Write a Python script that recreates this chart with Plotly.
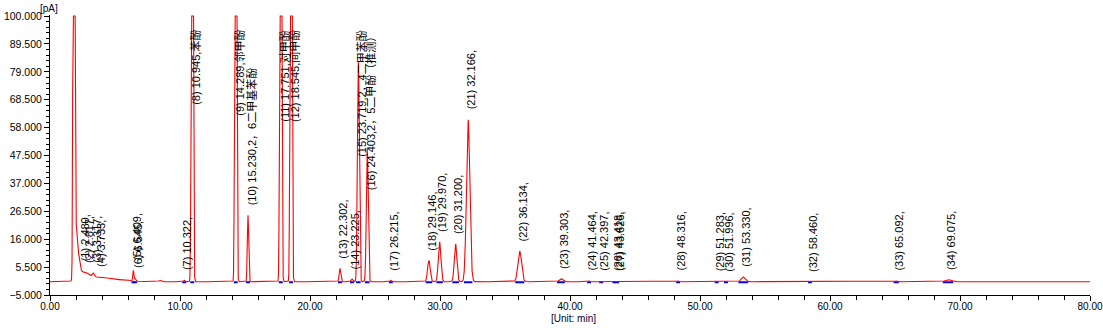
import numpy as np
import plotly.graph_objects as go

# ---------------- data ----------------
peak_no = list(range(1, 35))
peak_rt = [2.480, 2.817, 3.317, 3.733, 6.409, 6.545, 10.322, 10.945, 14.289, 15.230,
           17.751, 18.545, 22.302, 23.225, 23.719, 24.403, 26.215, 29.146, 29.970, 31.200,
           32.166, 36.134, 39.303, 41.464, 42.397, 43.418, 43.626, 48.316, 51.283, 51.996,
           53.330, 58.460, 65.092, 69.075]
# apparent heights in pA (500 = off-scale peak)
peak_height = [2.5, 1.2, 1.5, 1.0, 4.0, 1.0, 0.5, 500, 500, 25,
               500, 500, 5.0, 1.0, 83, 50, 0.5, 8.0, 15.0, 14.2,
               61, 11.5, 1.2, 0.3, 0.2, 0.2, 0.2, 0.3, 0.2, 0.2,
               1.8, 0.1, 0.3, 0.8]
peak_sigma = [0.35, 0.30, 0.08, 0.50, 0.04, 0.05, 0.05, 0.055, 0.055, 0.05,
              0.055, 0.055, 0.06, 0.06, 0.07, 0.07, 0.05, 0.10, 0.10, 0.10,
              0.13, 0.14, 0.12, 0.06, 0.06, 0.06, 0.06, 0.06, 0.06, 0.06,
              0.15, 0.06, 0.08, 0.20]
peak_name = {8: "苯酚", 9: "邻甲酚", 10: "2，6二甲基苯酚", 11: "对甲酚", 12: "间甲酚",
             15: "2，4二甲苯酚", 16: "2，5二甲酚（推测）"}

# solvent front and its tail (unlabelled)
solvent_rt = [1.84, 1.95, 2.10, 4.50, 8.45]
solvent_height = [500, 14, 10, 1.0, 0.5]
solvent_sigma = [0.05, 0.10, 0.15, 1.20, 0.10]

y_tick0, y_step = -5.0, 10.5

# ---------------- build trace ----------------
t = np.arange(0, 80.0001, 0.004)
sig = np.zeros_like(t)
for rt, h, s in zip(peak_rt + solvent_rt, peak_height + solvent_height, peak_sigma + solvent_sigma):
    sig += h * np.exp(-0.5 * ((t - rt) / s) ** 2)
Y_TOP = 100.0
shown = np.minimum(sig, Y_TOP)  # detector display saturates at full scale

FONT = "Liberation Sans, Arial, Noto Sans CJK SC, sans-serif"
W, H = 1103, 330
M = dict(l=50, r=13, t=15, b=35)
YR = [-5.0, 100.4]
PW = W - M["l"] - M["r"]
PH = H - M["t"] - M["b"]
px_per = PH / (YR[1] - YR[0])


def ypx(v):
    return M["t"] + (YR[1] - v) * px_per


def text_len(s, size=11):
    w = 0.0
    for c in s:
        if c.isdigit():
            w += 0.556
        elif c in "()-":
            w += 0.333
        elif c in " ,.":
            w += 0.278
        elif ord(c) < 128:
            w += 0.556
        else:
            w += 1.0
    return w * size


fig = go.Figure()

# baseline segments (blue) under integrated peaks
bx, by = [], []
for n, rt, s in zip(peak_no, peak_rt, peak_sigma):
    if n <= 4:
        continue
    half = min(max(2.5 * s, 0.15), 0.4)
    bx += [rt - half, rt + half, None]
    by += [-0.2, -0.2, None]
fig.add_trace(go.Scatter(x=bx, y=by, mode="lines", line=dict(color="#0000ff", width=2),
                         hoverinfo="skip", showlegend=False))

fig.add_trace(go.Scatter(x=t, y=shown, mode="lines", line=dict(color="#ff0000", width=1.1),
                         showlegend=False))

CAP_PX = 28
cap_val = YR[1] - (CAP_PX - M["t"]) / px_per
anns = []
for n, rt in zip(peak_no, peak_rt):
    txt = f"({n}) {rt:.3f}," + peak_name.get(n, "")
    v = float(np.interp(rt, t, shown))
    bottom = ypx(v) - 8
    L = text_len(txt)
    if bottom - L < CAP_PX:
        pos = dict(y=cap_val, yanchor="top", yshift=0)
    else:
        pos = dict(y=v, yanchor="bottom", yshift=8)
    anns.append(dict(x=rt, xref="x", yref="y", text=txt, textangle=-90, showarrow=False,
                     xanchor="center", xshift=3,
                     font=dict(family=FONT, size=11, color="#000000"), **pos))

anns.append(dict(x=(49 - M["l"]) / PW, y=1 + (M["t"] - 8) / PH, xref="paper", yref="paper",
                 text="[pA]", showarrow=False, xanchor="center", yanchor="middle",
                 font=dict(family=FONT, size=10, color="#000033")))
anns.append(dict(x=(573 - M["l"]) / PW, y=-(318 - (H - M["b"])) / PH, xref="paper", yref="paper",
                 text="[Unit: min]", showarrow=False, xanchor="center", yanchor="middle",
                 font=dict(family=FONT, size=10, color="#000033")))

fig.update_layout(
    width=W, height=H, margin=M, paper_bgcolor="white", plot_bgcolor="white",
    showlegend=False, annotations=anns,
)

fig.update_xaxes(range=[0, 80], tickmode="linear", tick0=0, dtick=10, tickformat=".2f",
                 ticks="outside", ticklen=5, tickcolor="black", showline=True, linecolor="black",
                 linewidth=1, showgrid=False, zeroline=False, automargin=False,
                 ticklabelstandoff=-3,
                 tickfont=dict(family=FONT, size=10, color="#000000"),
                 minor=dict(dtick=2, tick0=0, ticks="outside", ticklen=4, tickcolor="black"))
fig.update_yaxes(range=YR, tickmode="linear", tick0=y_tick0, dtick=y_step, tickformat=".3f",
                 ticks="outside", ticklen=5, tickcolor="black", showline=True, linecolor="black",
                 linewidth=1, showgrid=False, zeroline=False, automargin=False,
                 tickfont=dict(family=FONT, size=10.5, color="#000000"),
                 minor=dict(dtick=y_step / 5, tick0=y_tick0, ticks="outside", ticklen=3, tickcolor="black"))

fig.write_html("out.html")
